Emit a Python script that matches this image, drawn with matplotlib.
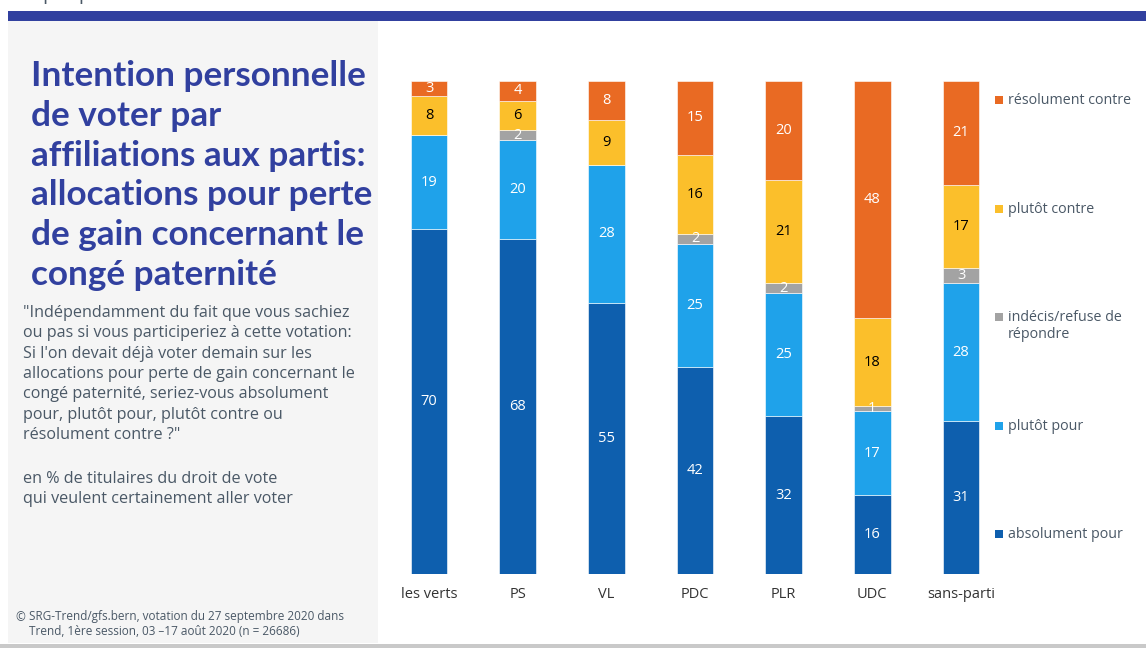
import numpy as np
import matplotlib
matplotlib.use("Agg")
from matplotlib import pyplot as plt
from matplotlib.patches import Rectangle

# parties and answer shares (%)
parties = ["les verts", "PS", "VL", "PDC", "PLR", "UDC", "sans-parti"]
absolument_pour = [70, 68, 55, 42, 32, 16, 31]
plutot_pour = [19, 20, 28, 25, 25, 17, 28]
indecis = [0, 2, 0, 2, 2, 1, 3]
plutot_contre = [8, 6, 9, 16, 21, 18, 17]
resolument_contre = [3, 4, 8, 15, 20, 48, 21]

series = [absolument_pour, plutot_pour, indecis, plutot_contre, resolument_contre]
names = ["absolument pour", "plutôt pour", "indécis/refuse de\nrépondre",
         "plutôt contre", "résolument contre"]
colors = ["#0E5FAE", "#1FA2EA", "#A3A3A3", "#FBBF2B", "#E96A23"]
text_colors = ["white", "white", "white", "black", "white"]

W, H = 1146, 648
plt.rcParams['font.family'] = ['Open Sans', 'DejaVu Sans']
fig = plt.figure(figsize=(W / 100, H / 100), dpi=100)
fig.patch.set_facecolor("white")

def fx(x):
    return x / W

def fy(y):
    return 1 - y / H

def box(x0, y0, x1, y1, c):
    fig.add_artist(Rectangle((fx(x0), fy(y1)), fx(x1) - fx(x0), fy(y0) - fy(y1),
                             transform=fig.transFigure, color=c, lw=0, zorder=0))

# header strip, side panel, bottom rule
box(8, 11, W, 21, "#31409F")
box(8, 21, 378, 643, "#F5F5F5")
box(0, 644, W, H, "#C9C9C9")
fig.text(fx(10), fy(4), "Graphique 6", fontsize=14, color="#4A5866", va="bottom")

title = ("Intention personnelle\nde voter par\naffiliations aux partis:\n"
         "allocations pour perte\nde gain concernant le\ncongé paternité")
fig.text(fx(31), fy(60), title, fontsize=25.3, fontweight="bold", color="#31409F",
         va="top", ha="left", linespacing=1.3, family=["Lato", "DejaVu Sans"])

question = ('"Indépendamment du fait que vous sachiez\nou pas si vous participeriez à cette votation:\n'
            "Si l'on devait déjà voter demain sur les\nallocations pour perte de gain concernant le\n"
            'congé paternité, seriez-vous absolument\npour, plutôt pour, plutôt contre ou\nrésolument contre ?"')
fig.text(fx(23), fy(305), question, fontsize=11.6, color="#4A5866", va="top", linespacing=1.36)
fig.text(fx(23), fy(471), "en % de titulaires du droit de vote\nqui veulent certainement aller voter",
         fontsize=11.6, color="#4A5866", va="top", linespacing=1.36)
fig.text(fx(15), fy(611), "©", fontsize=8.5, color="#4A5866", va="top")
fig.text(fx(29), fy(610), "SRG-Trend/gfs.bern, votation du 27 septembre 2020 dans\n"
         "Trend, 1ère session, 03 –17 août 2020 (n = 26686)",
         fontsize=8.5, color="#4A5866", va="top", linespacing=1.2)

# stacked bars
ax_l, ax_r = 385, 1005
ax = fig.add_axes([fx(ax_l), fy(574), fx(ax_r) - fx(ax_l), fy(81) - fy(574)])
step = (961 - 429) / 6
ax.set_xlim((ax_l - 429) / step, (ax_r - 429) / step)
ax.set_ylim(0, 100)
x = np.arange(len(parties))
bottom = np.zeros(len(parties))
for vals, c, tc in zip(series, colors, text_colors):
    vals = np.array(vals, dtype=float)
    ax.bar(x, vals, 0.41, bottom=bottom, color=c, edgecolor="white", linewidth=0.4)
    for xi, b, v in zip(x, bottom, vals):
        if v > 0:
            ax.text(xi, b + v / 2, "%d" % v, ha="center", va="center",
                    fontsize=10.5, color=tc)
    bottom += vals

ax.set_xticks(x)
ax.set_xticklabels(parties, fontsize=10.5, color="#333333")
ax.tick_params(axis="x", length=0, pad=9)
ax.set_yticks([])
for s in ax.spines.values():
    s.set_visible(False)
ax.patch.set_alpha(0)

# legend, top to bottom
leg_y = [100, 209, 317, 426, 534]
for yy, n, c in zip(leg_y, names[::-1], colors[::-1]):
    box(995, yy - 4, 1003, yy + 4, c)
    fig.text(fx(1008), fy(yy - 7), n, fontsize=10.3, color="#4A5866", va="top",
             linespacing=1.2)

fig.savefig("out.png", dpi=100)
